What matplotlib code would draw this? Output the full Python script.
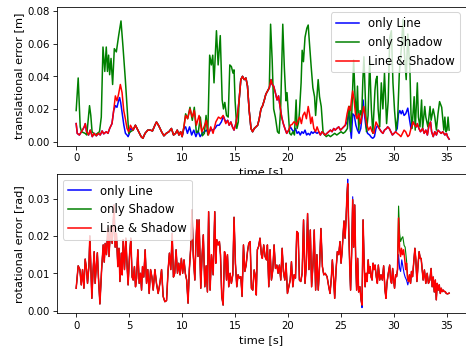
import numpy as np
import matplotlib
matplotlib.use('Agg')
import matplotlib.pyplot as plt

# translational error [m], "Line & Shadow" (t, value)
trans_both = [
    (0.0, 0.011), (0.1, 0.005), (0.3, 0.004), (0.5, 0.006), (0.76, 0.009), (0.86, 0.011),
    (0.98, 0.006), (1.17, 0.004), (1.33, 0.007), (1.52, 0.003), (1.7, 0.005), (1.9, 0.0035),
    (2.1, 0.005), (2.27, 0.004), (2.45, 0.0065), (2.6, 0.0047), (2.84, 0.006), (3.0, 0.005),
    (3.16, 0.008), (3.38, 0.011), (3.54, 0.019), (3.7, 0.028), (3.85, 0.025), (4.0, 0.029),
    (4.17, 0.035), (4.33, 0.030), (4.49, 0.019), (4.64, 0.014), (4.8, 0.008), (4.96, 0.006),
    (5.12, 0.010), (5.37, 0.007), (5.59, 0.010), (5.75, 0.008), (5.9, 0.006), (6.13, 0.003),
    (6.3, 0.002), (6.5, 0.005), (6.76, 0.007), (7.0, 0.007), (7.2, 0.0065), (7.43, 0.010),
    (7.58, 0.012), (7.8, 0.0096), (8.06, 0.006), (8.28, 0.0035), (8.5, 0.005), (8.75, 0.006),
    (8.99, 0.008), (9.19, 0.004), (9.38, 0.005), (9.54, 0.007), (9.7, 0.004), (9.86, 0.006),
    (10.0, 0.003), (10.17, 0.009), (10.33, 0.016), (10.52, 0.014), (10.74, 0.020), (10.96, 0.015),
    (11.15, 0.019), (11.34, 0.010), (11.6, 0.016), (11.85, 0.006), (12.07, 0.009), (12.29, 0.013),
    (12.48, 0.004), (12.7, 0.009), (12.92, 0.005), (13.18, 0.012), (13.43, 0.015), (13.65, 0.014),
    (13.87, 0.016), (14.12, 0.011), (14.3, 0.013), (14.44, 0.010), (14.6, 0.012), (14.75, 0.009),
    (14.9, 0.007), (15.07, 0.011), (15.23, 0.017), (15.38, 0.0255), (15.54, 0.038), (15.7, 0.040),
    (15.86, 0.038), (16.02, 0.039), (16.17, 0.034), (16.33, 0.019), (16.5, 0.008), (16.65, 0.006),
    (16.81, 0.008), (16.97, 0.009), (17.13, 0.010), (17.28, 0.014), (17.44, 0.020), (17.6, 0.022),
    (17.76, 0.0255), (17.9, 0.029), (18.07, 0.031), (18.23, 0.033), (18.39, 0.038), (18.5, 0.035),
    (18.64, 0.034), (18.8, 0.030), (18.96, 0.0255), (19.1, 0.028), (19.24, 0.0215), (19.4, 0.015),
    (19.55, 0.011), (19.7, 0.008), (19.87, 0.005), (20.06, 0.007), (20.22, 0.010), (20.38, 0.0105),
    (20.54, 0.012), (20.63, 0.012), (20.8, 0.010), (20.95, 0.013), (21.1, 0.015), (21.26, 0.011),
    (21.4, 0.016), (21.57, 0.018), (21.73, 0.014), (21.9, 0.0215), (22.05, 0.016), (22.14, 0.011),
    (22.27, 0.015), (22.43, 0.008), (22.6, 0.006), (22.74, 0.009), (22.9, 0.006), (23.05, 0.004),
    (23.2, 0.006), (23.35, 0.005), (23.5, 0.004), (23.67, 0.005), (23.84, 0.006), (24.0, 0.007),
    (24.15, 0.006), (24.31, 0.008), (24.45, 0.007), (24.6, 0.008), (24.78, 0.009), (24.95, 0.007),
    (25.1, 0.008), (25.25, 0.009), (25.4, 0.010), (25.57, 0.017), (25.73, 0.0215), (25.88, 0.019),
    (25.98, 0.0255), (26.1, 0.031), (26.23, 0.0255), (26.36, 0.017), (26.51, 0.014), (26.67, 0.017),
    (26.83, 0.011), (26.98, 0.016), (27.14, 0.0215), (27.3, 0.015), (27.45, 0.010), (27.6, 0.007),
    (27.77, 0.009), (27.93, 0.006), (28.1, 0.005), (28.2, 0.009), (28.3, 0.012), (28.45, 0.010),
    (28.6, 0.008), (28.8, 0.006), (28.95, 0.005), (29.1, 0.007), (29.3, 0.008), (29.4, 0.009),
    (29.55, 0.008), (29.7, 0.006), (29.85, 0.004), (30.0, 0.005), (30.15, 0.006), (30.3, 0.005),
    (30.5, 0.004), (30.65, 0.003), (30.8, 0.005), (30.95, 0.007), (31.1, 0.006), (31.3, 0.003),
    (31.45, 0.004), (31.6, 0.008), (31.8, 0.012), (31.95, 0.010), (32.1, 0.009), (32.2, 0.011),
    (32.35, 0.008), (32.5, 0.006), (32.7, 0.008), (32.85, 0.005), (33.0, 0.007), (33.15, 0.004),
    (33.3, 0.010), (33.45, 0.012), (33.55, 0.006), (33.7, 0.003), (33.85, 0.006), (34.0, 0.004),
    (34.15, 0.007), (34.3, 0.006), (34.45, 0.005), (34.6, 0.006), (34.8, 0.004), (34.95, 0.005),
    (35.05, 0.003), (35.2, 0.0015),
]

# "only Line": stretches where it leaves the red curve
trans_line_parts = [
    [(3.54, 0.019), (3.7, 0.022), (3.85, 0.021), (4.0, 0.025), (4.1, 0.027), (4.2, 0.024),
     (4.35, 0.017), (4.5, 0.010), (4.65, 0.005), (4.8, 0.004), (4.9, 0.003), (5.0, 0.0045),
     (5.12, 0.008)],
    [(10.17, 0.008), (10.33, 0.009), (10.5, 0.005), (10.7, 0.009), (10.9, 0.004), (11.1, 0.007),
     (11.3, 0.003), (11.5, 0.0065), (11.7, 0.003), (11.9, 0.005), (12.1, 0.006), (12.3, 0.007),
     (12.5, 0.005), (12.7, 0.0075), (12.9, 0.007), (13.1, 0.008), (13.3, 0.010), (13.5, 0.010),
     (13.7, 0.012), (13.9, 0.0155), (14.12, 0.012)],
    [(20.22, 0.009), (20.4, 0.007), (20.55, 0.006), (20.7, 0.008), (20.85, 0.005), (21.0, 0.006),
     (21.15, 0.004), (21.3, 0.006), (21.45, 0.005), (21.6, 0.007), (21.75, 0.004), (21.9, 0.005),
     (22.05, 0.004), (22.2, 0.006), (22.35, 0.005), (22.5, 0.006), (22.74, 0.005), (22.9, 0.006),
     (23.05, 0.004)],
    [(25.57, 0.012), (25.73, 0.018), (25.85, 0.010), (25.97, 0.002), (26.1, 0.017), (26.25, 0.016),
     (26.4, 0.010), (26.55, 0.007), (26.7, 0.005), (26.86, 0.008), (27.0, 0.016), (27.08, 0.0255),
     (27.2, 0.017), (27.35, 0.009), (27.5, 0.005), (27.7, 0.004), (27.87, 0.0025), (28.0, 0.002),
     (28.15, 0.003), (28.3, 0.008)],
    [(30.3, 0.008), (30.42, 0.017), (30.55, 0.019), (30.68, 0.017), (30.8, 0.019), (30.95, 0.016),
     (31.1, 0.017), (31.3, 0.0205), (31.45, 0.014), (31.6, 0.008)],
]

# "only Shadow": stretches where it leaves the red curve
trans_shadow_parts = [
    [(0.0, 0.019), (0.19, 0.039), (0.38, 0.009), (0.5, 0.006), (0.85, 0.005), (1.0, 0.004),
     (1.17, 0.016), (1.26, 0.022), (1.38, 0.016), (1.5, 0.006), (1.8, 0.004), (2.0, 0.005),
     (2.2, 0.006), (2.37, 0.015), (2.53, 0.058), (2.7, 0.043), (2.84, 0.058), (2.95, 0.043),
     (3.06, 0.053), (3.16, 0.041), (3.29, 0.051), (3.44, 0.035), (3.6, 0.057), (3.79, 0.055),
     (4.01, 0.065), (4.23, 0.074), (4.42, 0.058), (4.64, 0.038), (4.8, 0.021), (4.96, 0.005),
     (5.12, 0.006), (5.37, 0.007)],
    [(10.17, 0.009), (10.33, 0.017), (10.52, 0.014), (10.74, 0.021), (10.96, 0.013), (11.15, 0.021),
     (11.34, 0.0055), (11.53, 0.006), (11.72, 0.015), (11.91, 0.0035), (12.1, 0.005), (12.26, 0.016),
     (12.42, 0.004), (12.6, 0.053), (12.76, 0.047), (12.89, 0.053), (13.01, 0.036), (13.24, 0.068),
     (13.4, 0.047), (13.6, 0.065), (13.78, 0.0255), (13.9, 0.020), (14.03, 0.024), (14.19, 0.016),
     (14.35, 0.015), (14.5, 0.047), (14.65, 0.046), (14.8, 0.042), (14.9, 0.044), (15.0, 0.025),
     (15.16, 0.008), (15.3, 0.012), (15.38, 0.0255)],
    [(18.23, 0.033), (18.35, 0.072), (18.5, 0.050), (18.64, 0.020), (18.8, 0.015), (19.0, 0.006),
     (19.15, 0.005), (19.3, 0.020), (19.5, 0.072), (19.65, 0.045), (19.8, 0.025), (19.9, 0.030),
     (20.0, 0.020), (20.15, 0.005), (20.3, 0.004), (20.45, 0.006), (20.6, 0.004), (20.76, 0.0255),
     (20.85, 0.008), (21.0, 0.012), (21.07, 0.018), (21.23, 0.036), (21.33, 0.056), (21.45, 0.049),
     (21.6, 0.064), (21.77, 0.0695), (21.9, 0.0715), (22.0, 0.062), (22.18, 0.046), (22.34, 0.033),
     (22.5, 0.0275), (22.6, 0.016), (22.7, 0.0255), (22.84, 0.038), (22.97, 0.0275), (23.13, 0.0215),
     (23.3, 0.006), (23.44, 0.004)],
    [(23.6, 0.003), (23.8, 0.004), (24.0, 0.003), (24.2, 0.004), (24.4, 0.005), (24.6, 0.004),
     (24.8, 0.005), (25.0, 0.006), (25.2, 0.005), (25.4, 0.006), (25.6, 0.008)],
    [(25.81, 0.0215), (25.9, 0.006), (26.0, 0.015), (26.19, 0.050), (26.32, 0.0275), (26.45, 0.015),
     (26.55, 0.034), (26.67, 0.007), (26.8, 0.019), (26.95, 0.016), (27.06, 0.038), (27.16, 0.052),
     (27.3, 0.0255), (27.4, 0.006), (27.55, 0.016), (27.7, 0.050), (27.86, 0.020), (28.0, 0.005),
     (28.2, 0.0315), (28.3, 0.038), (28.4, 0.040), (28.5, 0.020), (28.65, 0.009), (28.8, 0.036),
     (28.95, 0.020), (29.1, 0.042), (29.3, 0.011), (29.45, 0.025), (29.6, 0.064), (29.75, 0.068),
     (29.9, 0.036), (30.05, 0.019), (30.2, 0.007), (30.35, 0.015), (30.5, 0.042), (30.7, 0.058),
     (30.85, 0.075), (31.0, 0.052), (31.15, 0.038), (31.3, 0.066), (31.5, 0.044), (31.6, 0.017),
     (31.7, 0.008), (31.9, 0.0275), (32.0, 0.007), (32.2, 0.036), (32.3, 0.015), (32.45, 0.009),
     (32.6, 0.0255), (32.7, 0.008), (32.9, 0.0215), (33.0, 0.015), (33.2, 0.009), (33.4, 0.0215),
     (33.5, 0.013), (33.7, 0.020), (33.85, 0.015), (34.0, 0.007), (34.15, 0.017), (34.3, 0.0245),
     (34.5, 0.021), (34.7, 0.007), (34.8, 0.015), (34.9, 0.006), (35.0, 0.007), (35.1, 0.015),
     (35.2, 0.007)],
]

# rotational error [rad], "Line & Shadow"
rot_both = [
    (0.0, 0.006), (0.19, 0.012), (0.35, 0.011), (0.48, 0.0069), (0.6, 0.011), (0.73, 0.006),
    (0.85, 0.0138), (0.98, 0.011), (1.07, 0.0073), (1.2, 0.0118), (1.29, 0.020), (1.38, 0.0122),
    (1.48, 0.0033), (1.6, 0.011), (1.7, 0.0158), (1.79, 0.0073), (1.9, 0.012), (2.0, 0.0155),
    (2.1, 0.009), (2.24, 0.0018), (2.4, 0.011), (2.55, 0.0176), (2.65, 0.013), (2.74, 0.018),
    (2.86, 0.015), (2.99, 0.022), (3.1, 0.0145), (3.24, 0.0225), (3.4, 0.018), (3.58, 0.0283),
    (3.68, 0.017), (3.8, 0.0207), (3.93, 0.0118), (4.04, 0.0167), (4.13, 0.0078), (4.26, 0.0154),
    (4.34, 0.0096), (4.44, 0.019), (4.56, 0.011), (4.69, 0.0194), (4.81, 0.0118), (4.9, 0.0069),
    (5.04, 0.015), (5.16, 0.0194), (5.28, 0.009), (5.38, 0.0082), (5.5, 0.0118), (5.6, 0.0064),
    (5.7, 0.0087), (5.82, 0.0163), (5.95, 0.0073), (6.07, 0.010), (6.17, 0.0055), (6.26, 0.0118),
    (6.38, 0.009), (6.51, 0.0163), (6.64, 0.0073), (6.76, 0.011), (6.89, 0.0046), (7.02, 0.011),
    (7.15, 0.009), (7.27, 0.0055), (7.43, 0.011), (7.58, 0.0073), (7.74, 0.0046), (7.9, 0.0073),
    (8.06, 0.011), (8.21, 0.0038), (8.37, 0.0024), (8.53, 0.0027), (8.68, 0.011), (8.8, 0.0154),
    (8.93, 0.011), (9.06, 0.0207), (9.18, 0.009), (9.3, 0.010), (9.43, 0.0163), (9.56, 0.010),
    (9.68, 0.0127), (9.8, 0.0096), (9.93, 0.014), (10.05, 0.010), (10.18, 0.0136), (10.3, 0.010),
    (10.43, 0.0082), (10.56, 0.002), (10.68, 0.011), (10.8, 0.0163), (10.93, 0.027), (11.05, 0.015),
    (11.2, 0.0082), (11.3, 0.018), (11.4, 0.0243), (11.5, 0.0145), (11.6, 0.0243), (11.76, 0.006),
    (11.88, 0.0145), (12.0, 0.0203), (12.14, 0.0064), (12.27, 0.012), (12.39, 0.005), (12.5, 0.0265),
    (12.64, 0.0055), (12.77, 0.015), (12.93, 0.0096), (13.08, 0.0265), (13.18, 0.0127), (13.27, 0.019),
    (13.4, 0.0176), (13.52, 0.0185), (13.62, 0.015), (13.74, 0.0038), (13.87, 0.0015), (14.0, 0.0158),
    (14.1, 0.0145), (14.19, 0.0082), (14.28, 0.015), (14.4, 0.0064), (14.53, 0.010), (14.65, 0.0073),
    (14.78, 0.0096), (14.9, 0.025), (15.03, 0.0127), (15.16, 0.0064), (15.28, 0.0096), (15.41, 0.0087),
    (15.54, 0.0091), (15.66, 0.0038), (15.79, 0.0176), (15.92, 0.0105), (16.04, 0.0122), (16.17, 0.0158),
    (16.29, 0.018), (16.42, 0.0185), (16.54, 0.006), (16.67, 0.0055), (16.8, 0.0109), (16.92, 0.009),
    (17.0, 0.0042), (17.1, 0.0163), (17.22, 0.0172), (17.35, 0.0194), (17.48, 0.015), (17.57, 0.014),
    (17.7, 0.0176), (17.83, 0.0145), (17.96, 0.0136), (18.05, 0.0176), (18.18, 0.0064), (18.3, 0.0163),
    (18.43, 0.0082), (18.56, 0.0109), (18.68, 0.0176), (18.81, 0.0113), (18.94, 0.0122), (19.06, 0.010),
    (19.18, 0.0122), (19.31, 0.0082), (19.44, 0.0167), (19.56, 0.0105), (19.69, 0.0082), (19.81, 0.0127),
    (19.94, 0.0046), (20.07, 0.0064), (20.2, 0.0082), (20.32, 0.0131), (20.45, 0.0064), (20.57, 0.0096),
    (20.7, 0.0087), (20.82, 0.0212), (20.95, 0.0207), (21.07, 0.0082), (21.2, 0.0078), (21.33, 0.010),
    (21.46, 0.0243), (21.6, 0.0073), (21.72, 0.0122), (21.84, 0.026), (21.97, 0.011), (22.1, 0.0216),
    (22.22, 0.0064), (22.35, 0.0122), (22.47, 0.0216), (22.6, 0.0055), (22.72, 0.015), (22.85, 0.0055),
    (22.97, 0.0118), (23.1, 0.022), (23.24, 0.0118), (23.37, 0.0096), (23.5, 0.010), (23.68, 0.0091),
    (23.84, 0.0064), (23.96, 0.0046), (24.09, 0.009), (24.18, 0.0136), (24.31, 0.0082), (24.4, 0.0033),
    (24.53, 0.011), (24.65, 0.0158), (24.78, 0.015), (24.9, 0.0185), (25.0, 0.0127), (25.1, 0.0158),
    (25.19, 0.0203), (25.28, 0.024), (25.38, 0.0194), (25.47, 0.0243), (25.56, 0.031), (25.63, 0.034),
    (25.72, 0.0225), (25.82, 0.0118), (25.9, 0.0055), (26.0, 0.0154), (26.1, 0.0297), (26.19, 0.017),
    (26.29, 0.0283), (26.38, 0.014), (26.47, 0.0055), (26.57, 0.014), (26.66, 0.005), (26.78, 0.0064),
    (26.89, 0.0029), (26.98, 0.0015), (27.08, 0.0243), (27.18, 0.0127), (27.27, 0.0064), (27.37, 0.010),
    (27.46, 0.0078), (27.56, 0.0136), (27.65, 0.010), (27.75, 0.0118), (27.84, 0.009), (27.93, 0.0082),
    (28.02, 0.0127), (28.12, 0.011), (28.21, 0.0122), (28.33, 0.009), (28.43, 0.0073), (28.52, 0.0122),
    (28.65, 0.0082), (28.77, 0.0096), (28.9, 0.0082), (29.02, 0.012), (29.15, 0.0055), (29.24, 0.0033),
    (29.33, 0.0073), (29.46, 0.010), (29.59, 0.0122), (29.68, 0.0082), (29.77, 0.0073), (29.87, 0.0113),
    (29.96, 0.0082), (30.05, 0.006), (30.15, 0.0096), (30.24, 0.0091), (30.33, 0.011), (30.43, 0.0248),
    (30.53, 0.0163), (30.62, 0.0145), (30.7, 0.0167), (30.8, 0.015), (30.9, 0.0163), (31.0, 0.0141),
    (31.1, 0.011), (31.18, 0.0127), (31.28, 0.0087), (31.37, 0.0078), (31.46, 0.0096), (31.56, 0.0073),
    (31.65, 0.0105), (31.75, 0.0091), (31.87, 0.0131), (31.97, 0.0167), (32.06, 0.0136), (32.16, 0.0078),
    (32.28, 0.0127), (32.37, 0.0158), (32.47, 0.014), (32.56, 0.014), (32.65, 0.0113), (32.75, 0.0082),
    (32.87, 0.0109), (33.0, 0.0073), (33.13, 0.010), (33.25, 0.0073), (33.38, 0.0082), (33.5, 0.0113),
    (33.6, 0.0064), (33.7, 0.009), (33.8, 0.005), (33.9, 0.0082), (33.99, 0.0029), (34.08, 0.0073),
    (34.18, 0.0055), (34.27, 0.0069), (34.37, 0.0046), (34.46, 0.006), (34.55, 0.0051), (34.65, 0.0055),
    (34.74, 0.0051), (34.84, 0.0051), (34.93, 0.0046), (35.07, 0.0045), (35.2, 0.0047),
]

rot_line_parts = [
    [(25.63, 0.0352)],
    [(26.1, 0.0305)],
    [(26.98, 0.0008)],
    [(30.33, 0.011), (30.43, 0.015), (30.53, 0.0113), (30.62, 0.0105), (30.73, 0.0136),
     (30.83, 0.012), (30.95, 0.010), (31.05, 0.009), (31.18, 0.0082), (31.3, 0.0069), (31.37, 0.0078)],
]

rot_shadow_parts = [
    [(30.33, 0.011), (30.43, 0.028), (30.53, 0.0207), (30.62, 0.0185), (30.73, 0.0194),
     (30.83, 0.0198), (30.95, 0.0175), (31.05, 0.017), (31.18, 0.0135), (31.28, 0.0087)],
]

labels = ['only Line', 'only Shadow', 'Line & Shadow']
colors = ['b', 'g', 'r']


def patch(base, parts):
    # swap in the stretches where a curve leaves the base curve
    out = np.asarray(base, dtype=float)
    for part in parts:
        part = np.asarray(part, dtype=float)
        keep = (out[:, 0] < part[0, 0]) | (out[:, 0] > part[-1, 0])
        out = np.vstack([out[keep], part])
        out = out[np.argsort(out[:, 0], kind='stable')]
    return out


trans = [patch(trans_both, trans_line_parts), patch(trans_both, trans_shadow_parts),
         np.asarray(trans_both)]
rot = [patch(rot_both, rot_line_parts), patch(rot_both, rot_shadow_parts),
       np.asarray(rot_both)]

dpi = 466 / 6.4
fig = plt.figure(figsize=(6.4, 349.2 / dpi), dpi=dpi)
ax1 = fig.add_axes([0.123, 0.5825, 0.876, 0.398])
ax2 = fig.add_axes([0.123, 0.1023, 0.876, 0.399])

lab_fs = 11.3
leg_fs = 11.5

for data, lab, col in zip(trans, labels, colors):
    ax1.plot(data[:, 0], data[:, 1], color=col, label=lab)
ax1.set_xlim(-1.78, 36.75)
ax1.set_ylim(-0.0025, 0.0828)
ax1.set_yticks([0.0, 0.02, 0.04, 0.06, 0.08])
ax1.set_xticks(range(0, 36, 5))
ax1.set_xlabel('time [s]', fontsize=lab_fs)
ax1.set_ylabel('translational error [m]', fontsize=lab_fs)
ax1.legend(loc='upper right', fontsize=leg_fs)

# lines under the red one are a bit thinner so their edges do not show
rot_lw = [1.1, 1.1, 1.5]
for data, lab, col, lw in zip(rot, labels, colors, rot_lw):
    ax2.plot(data[:, 0], data[:, 1], color=col, label=lab, lw=lw)
ax2.set_xlim(-1.78, 36.75)
ax2.set_ylim(-0.0007, 0.0366)
ax2.set_yticks([0.0, 0.01, 0.02, 0.03])
ax2.set_xticks(range(0, 36, 5))
ax2.set_xlabel('time [s]', fontsize=lab_fs)
ax2.set_ylabel('rotational error [rad]', fontsize=lab_fs)
leg = ax2.legend(loc='upper left', fontsize=leg_fs)
for h in leg.get_lines():
    h.set_linewidth(1.5)

fig.savefig('out.png', dpi=dpi)
